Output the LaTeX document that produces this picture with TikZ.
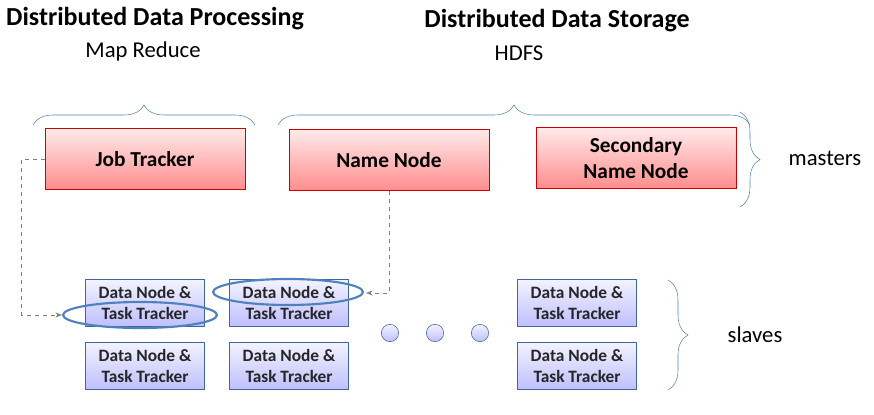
\documentclass[tikz,border=0pt]{standalone}
\usepackage{fontspec}
\setmainfont{Carlito}
\usetikzlibrary{decorations.pathreplacing,arrows.meta}
\definecolor{bl}{HTML}{4F81BD}
\begin{document}
\begin{tikzpicture}[x=0.75pt,y=-0.75pt,
 master/.style={draw=red!80!black,top color=red!8!white,bottom color=red!45!white,minimum width=150pt,minimum height=46pt,font=\bfseries\fontsize{16}{19}\selectfont,align=center,inner sep=0},
 slave/.style={draw=bl!80!black,top color=blue!5!white,bottom color=blue!25!white,minimum width=89pt,minimum height=35pt,font=\bfseries\fontsize{13}{15.5}\selectfont,align=center,inner sep=0,text=black!85},
 dot/.style={circle,draw=bl!80!black,top color=blue!5!white,bottom color=blue!25!white,minimum size=13pt,inner sep=0},
 br/.style={draw=bl,decorate,decoration={brace,amplitude=15pt}},
 lab/.style={font=\fontsize{17}{20}\selectfont},
 ttl/.style={font=\bfseries\fontsize{19.5}{23}\selectfont},
 conn/.style={draw=gray,dashed,-{Stealth[length=5pt]}},
 ell/.style={draw=bl,line width=1.6pt}]
\useasboundingbox (0,0) rectangle (874,414);
\node[ttl] (t1) at (155,19) {Distributed Data Processing};
\node[ttl] (t2) at (557,21) {Distributed Data Storage};
\node[lab] (mr) at (143,51) {Map Reduce};
\node[lab] (hd) at (519,53) {HDFS};
\draw[br] (33,125) -- (255,125);
\draw[br] (278,125) -- (750,125);
\node[master] (jt) at (145,159) {Job Tracker};
\node[master] (nn) at (389,160) {Name Node};
\node[master] (snn) at (636,158) {Secondary\\Name Node};
\draw[br] (740,112) -- (740,207);
\node[lab] (ma) at (825,158) {masters};
\node[slave] (s11) at (145,303) {Data Node \&\\Task Tracker};
\node[slave] (s12) at (289,303) {Data Node \&\\Task Tracker};
\node[slave] (s13) at (577,303) {Data Node \&\\Task Tracker};
\node[slave] (s21) at (145,366) {Data Node \&\\Task Tracker};
\node[slave] (s22) at (289,366) {Data Node \&\\Task Tracker};
\node[slave] (s23) at (577,366) {Data Node \&\\Task Tracker};
\node[dot] (d1) at (390,333) {};
\node[dot] (d2) at (435,333) {};
\node[dot] (d3) at (480,333) {};
\draw[br] (668,280) -- (668,390);
\node[lab] (sl) at (755,335) {slaves};
\draw[ell] (140,315) ellipse [x radius=77, y radius=13];
\draw[ell] (288,292) ellipse [x radius=75, y radius=13];
\coordinate (e1) at (62,315);
\coordinate (e2) at (366,293);
\draw[conn] (jt.west) -- ++(-23,0) |- (e1);
\draw[conn] (nn.south) |- (e2);
\end{tikzpicture}
\end{document}
